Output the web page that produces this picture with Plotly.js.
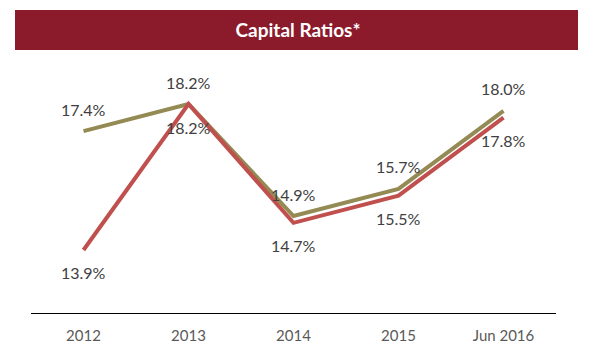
<!DOCTYPE html>
<html>
<head>
<meta charset="utf-8">
<script src="https://cdn.plot.ly/plotly-3.0.1.min.js"></script>
<style>html,body{margin:0;padding:0;background:#fff;}#chart{width:593px;height:360px;}</style>
</head>
<body>
<div id="chart"></div>
<script>
var categories = ["2012", "2013", "2014", "2015", "Jun 2016"];
var seriesOlive = [17.4, 18.2, 14.9, 15.7, 18.0];
var seriesRed = [13.9, 18.2, 14.7, 15.5, 17.8];

var oliveColor = "#948A54";
var redColor = "#C0504D";
var labelFont = {family: "Lato, 'Open Sans', sans-serif", size: 16, color: "#404040"};

var traces = [
  {x: categories, y: seriesOlive, type: "scatter", mode: "lines",
   line: {color: oliveColor, width: 4}, hoverinfo: "none"},
  {x: categories, y: seriesRed, type: "scatter", mode: "lines",
   line: {color: redColor, width: 4}, hoverinfo: "none"}
];

var annotations = [];
categories.forEach(function (c, i) {
  annotations.push({x: i, y: seriesOlive[i], xref: "x", yref: "y",
    text: seriesOlive[i].toFixed(1) + "%", showarrow: false, yshift: 22, font: labelFont});
  annotations.push({x: i, y: seriesRed[i], xref: "x", yref: "y",
    text: seriesRed[i].toFixed(1) + "%", showarrow: false, yshift: -23, font: labelFont});
});

var L = 31, R = 556, T = 60, B = 313, W = 593, H = 360;
var pw = R - L, ph = B - T;

var layout = {
  width: W, height: H,
  margin: {l: L, r: W - R, t: T, b: H - B, pad: 0},
  paper_bgcolor: "#fff", plot_bgcolor: "#fff",
  showlegend: false,
  title: {text: "<b>Capital Ratios*</b>", x: 298 / W, xanchor: "center",
          y: 1 - 30 / H, yanchor: "middle", xref: "container", yref: "container",
          font: {family: "Lato, 'Open Sans', sans-serif", size: 19, color: "#ffffff"}},
  xaxis: {type: "category", range: [-0.5, 4.5], showgrid: false, zeroline: false,
          showline: true, linecolor: "#000", linewidth: 1, ticks: "",
          tickfont: {family: "Lato, 'Open Sans', sans-serif", size: 15, color: "#595959"},
          ticklabelstandoff: 9, fixedrange: true},
  yaxis: {range: [12.044, 19.496], visible: false, showgrid: false, zeroline: false, fixedrange: true},
  shapes: [{type: "rect", xref: "paper", yref: "paper",
            x0: (15 - L) / pw, x1: (578 - L) / pw,
            y0: (B - 50) / ph, y1: (B - 10) / ph,
            fillcolor: "#8B1A2B", line: {width: 0}, layer: "below"}],
  annotations: annotations
};

Plotly.newPlot("chart", traces, layout, {displayModeBar: false, staticPlot: true});
</script>
</body>
</html>
